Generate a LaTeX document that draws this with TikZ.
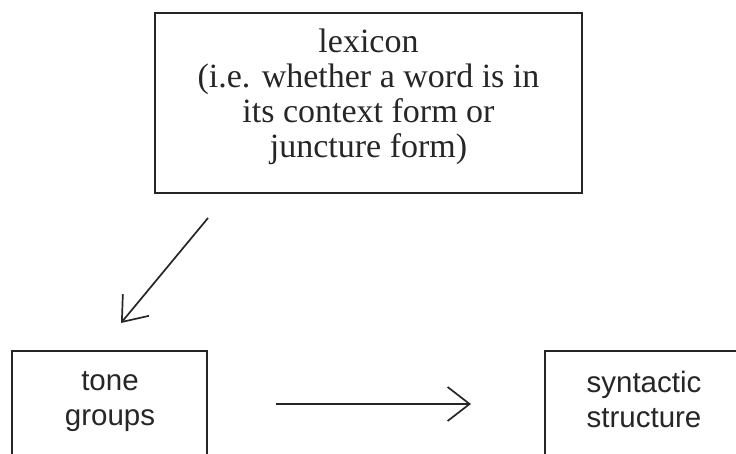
\documentclass[tikz,border=0pt]{standalone}
\usepackage{fontspec}
\setmainfont{Liberation Serif}
\newfontfamily\labelsans{Liberation Sans}
\usetikzlibrary{arrows.meta}
\begin{document}
\begin{tikzpicture}[x=1pt,y=-1pt,
  boxline/.style={draw=black!85, line width=1.6pt, inner sep=0pt},
  serifText/.style={align=center, inner sep=0pt, font=\fontsize{34}{35}\selectfont, text=black!85},
  sansText/.style={align=center, inner sep=0pt, font=\labelsans\fontsize{29.5}{35}\selectfont, text=black!85},
  flow/.style={draw=black!85, line width=1.7pt, -{Straight Barb[length=22pt,width=34pt,line width=1.7pt]}}]
\clip (0,0) rectangle (736,454);
\node[boxline, minimum width=427pt, minimum height=180pt] (lex) at (368.5,103) {};
\node[boxline, minimum width=195pt, minimum height=140pt] (tone) at (109.5,421) {};
\node[boxline, minimum width=198pt, minimum height=140pt] (syn) at (644,421) {};
\node[serifText] (lexlabel) at (368.5,97) {lexicon\\(i.e. whether a word is in\\its context form or\\juncture form)};
\node[sansText] (tonelabel) at (110,402) {tone\\groups};
\node[sansText] (synlabel) at (644,399.5) {syntactic\\structure};
\coordinate (d1) at (208,218);
\coordinate (d2) at (121,323);
\coordinate (h1) at (276,404);
\coordinate (h2) at (471,404);
\draw[flow] (d1) -- (d2);
\draw[flow] (h1) -- (h2);
\end{tikzpicture}
\end{document}
